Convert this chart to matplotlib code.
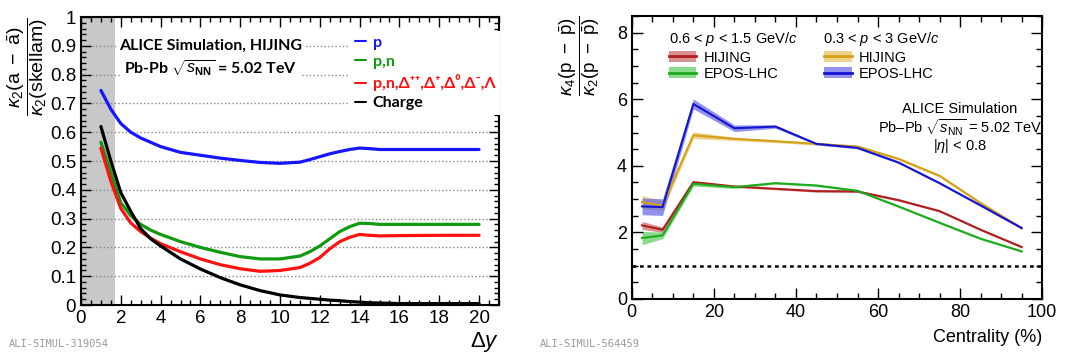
import numpy as np
import matplotlib
matplotlib.use('Agg')
import matplotlib.pyplot as plt
from matplotlib.patches import Patch
from matplotlib.lines import Line2D
from matplotlib.ticker import MultipleLocator

plt.rcParams['font.family'] = ['Liberation Sans', 'DejaVu Sans']
plt.rcParams['mathtext.fontset'] = 'custom'
plt.rcParams['mathtext.rm'] = 'Liberation Sans'
plt.rcParams['mathtext.it'] = 'Liberation Sans:italic'
plt.rcParams['mathtext.bf'] = 'Liberation Sans:bold'

# ---- left panel data: kappa2 ratio vs delta y (HIJING)
dy = [1, 1.5, 2, 2.5, 3, 3.5, 4, 5, 6, 7, 8, 9, 10, 11, 11.5, 12, 12.5, 13, 13.5, 14, 14.5, 15, 16, 18, 20]
k2_p = [0.745, 0.68, 0.63, 0.60, 0.58, 0.565, 0.55, 0.53, 0.52, 0.51, 0.502, 0.495, 0.492, 0.496, 0.505,
        0.515, 0.525, 0.533, 0.54, 0.545, 0.543, 0.54, 0.54, 0.54, 0.54]
k2_pn = [0.565, 0.46, 0.355, 0.31, 0.28, 0.26, 0.245, 0.22, 0.20, 0.183, 0.168, 0.16, 0.16, 0.17, 0.185,
         0.205, 0.23, 0.255, 0.272, 0.284, 0.283, 0.28, 0.28, 0.28, 0.28]
k2_bar = [0.545, 0.43, 0.335, 0.285, 0.255, 0.232, 0.213, 0.185, 0.16, 0.14, 0.126, 0.117, 0.12, 0.13, 0.145,
          0.165, 0.195, 0.22, 0.235, 0.245, 0.242, 0.24, 0.241, 0.242, 0.242]
k2_ch = [0.62, 0.50, 0.39, 0.325, 0.265, 0.23, 0.205, 0.16, 0.125, 0.095, 0.07, 0.05, 0.035, 0.026, 0.023,
         0.02, 0.017, 0.015, 0.012, 0.01, 0.008, 0.007, 0.005, 0.005, 0.005]
labels_left = ['p', 'p,n', 'p,n,Δ⁺⁺,Δ⁺,Δ⁰,Δ⁻,Λ', 'Charge']
colors_left = ['#1515ff', '#119911', '#ff1111', '#000000']

# ---- right panel data: kappa4/kappa2 vs centrality
cent = [2.5, 7.5, 15, 25, 35, 45, 55, 65, 75, 85, 95]
hij_lo = [2.21, 2.08, 3.51, 3.38, 3.31, 3.24, 3.23, 2.97, 2.64, 2.08, 1.56]
hij_lo_err = [0.12, 0.08, 0.04, 0.03, 0.03, 0.03, 0.03, 0.03, 0.03, 0.03, 0.03]
epos_lo = [1.83, 1.91, 3.46, 3.36, 3.48, 3.41, 3.25, 2.78, 2.29, 1.81, 1.43]
epos_lo_err = [0.2, 0.1, 0.07, 0.04, 0.03, 0.03, 0.03, 0.03, 0.03, 0.03, 0.03]
hij_hi = [2.91, 2.80, 4.92, 4.81, 4.74, 4.66, 4.58, 4.21, 3.70, 2.88, 2.13]
hij_hi_err = [0.2, 0.15, 0.1, 0.05, 0.04, 0.04, 0.04, 0.04, 0.04, 0.04, 0.04]
epos_hi = [2.78, 2.76, 5.86, 5.13, 5.18, 4.66, 4.54, 4.10, 3.48, 2.81, 2.13]
epos_hi_err = [0.25, 0.25, 0.15, 0.1, 0.05, 0.03, 0.03, 0.03, 0.03, 0.03, 0.03]

fig = plt.figure(figsize=(10.8, 3.58), dpi=100)

# ================= left panel
ax1 = fig.add_axes([0.075, 0.148, 0.387, 0.8045])
ax1.axvspan(0, 1.7, color='#c8c8c8', zorder=0, lw=0)
ax1.yaxis.grid(True, linestyle=':', color='#888888', lw=1, zorder=1)
for y, c, l in zip([k2_p, k2_pn, k2_bar, k2_ch], colors_left, labels_left):
    ax1.plot(dy, y, color=c, lw=2.3, label=l, zorder=3, solid_capstyle='round')
ax1.set_xlim(0, 21)
ax1.set_ylim(0, 1)
ax1.xaxis.set_major_locator(MultipleLocator(2))
ax1.xaxis.set_minor_locator(MultipleLocator(0.5))
ax1.yaxis.set_minor_locator(MultipleLocator(0.02))
ax1.set_yticks(np.arange(0, 1.01, 0.1))
ax1.set_yticklabels(['0', '0.1', '0.2', '0.3', '0.4', '0.5', '0.6', '0.7', '0.8', '0.9', '1'])
ax1.tick_params(which='both', direction='in', top=True, right=True, labelsize=13.5, width=1)
ax1.tick_params(which='major', length=7)
ax1.tick_params(which='minor', length=3.5)
for s in ax1.spines.values():
    s.set_linewidth(1.5)
ax1.set_ylabel(r'$\dfrac{\kappa_2(\mathrm{a\ -\ \bar{a}})}{\kappa_2(\mathrm{skellam})}$', fontsize=14,
               loc='top', labelpad=0)
ax1.set_xlabel(r'$\Delta y$', fontsize=16, loc='right', labelpad=2)

bb = dict(facecolor='white', edgecolor='none', pad=1.5)
ax1.text(0.311, 0.90, 'ALICE Simulation, HIJING', transform=ax1.transAxes, ha='center', va='center',
         fontsize=11.5, fontweight='bold', family=['Lato', 'DejaVu Sans'], bbox=bb, zorder=5)
ax1.text(0.311, 0.823, r'Pb-Pb $\sqrt{s_{\mathbf{NN}}}$ = 5.02 TeV', transform=ax1.transAxes, ha='center',
         va='center', fontsize=11.5, fontweight='bold', family=['Lato', 'DejaVu Sans'], bbox=bb, zorder=5)
leg1 = ax1.legend(loc='upper left', bbox_to_anchor=(0.625, 0.98), frameon=True, framealpha=1,
                  edgecolor='none', handlelength=0.7, handletextpad=0.4, labelspacing=0.32,
                  borderpad=0.3, fancybox=False,
                  prop={'family': ['Lato', 'DejaVu Sans'], 'weight': 'bold', 'size': 11.5})
leg1.set_zorder(5)
for t, c in zip(leg1.get_texts(), colors_left):
    t.set_color(c)
for h in leg1.get_lines():
    h.set_linewidth(1.5)

# ================= right panel
ax2 = fig.add_axes([0.585, 0.165, 0.38, 0.79])
series = [(hij_lo, hij_lo_err, '#b01e1e', '#c86464'),
          (epos_lo, epos_lo_err, '#1eaa1e', '#5ccc5c'),
          (hij_hi, hij_hi_err, '#d4a017', '#e6c15a'),
          (epos_hi, epos_hi_err, '#1414d2', '#6464e6')]
handles = []
for y, e, c, fc in series:
    y = np.array(y)
    e = np.array(e)
    ax2.fill_between(cent, y - e, y + e, color=fc, alpha=0.7, lw=0)
    ax2.plot(cent, y, color=c, lw=1.5)
    handles.append((Patch(facecolor=fc, alpha=0.7, edgecolor='none'), Line2D([], [], color=c, lw=2)))
ax2.axhline(1, color='black', lw=1.8, ls=(0, (1.5, 1.5)))
ax2.set_xlim(0, 100)
ax2.set_ylim(0, 8.5)
ax2.xaxis.set_major_locator(MultipleLocator(20))
ax2.xaxis.set_minor_locator(MultipleLocator(5))
ax2.yaxis.set_major_locator(MultipleLocator(2))
ax2.yaxis.set_minor_locator(MultipleLocator(0.5))
ax2.tick_params(which='both', direction='in', top=True, right=True, labelsize=13, width=1)
ax2.tick_params(which='major', length=8)
ax2.tick_params(which='minor', length=4)
for s in ax2.spines.values():
    s.set_linewidth(1.5)
ax2.set_ylabel(r'$\dfrac{\kappa_4(\mathrm{p\ -\ \bar{p}})}{\kappa_2(\mathrm{p\ -\ \bar{p}})}$', fontsize=13.5,
               loc='top', labelpad=11)
ax2.set_xlabel('Centrality (%)', fontsize=13, loc='right', labelpad=6)

ax2.text(0.09, 0.919, r'0.6 < $p$ < 1.5 GeV/$c$', transform=ax2.transAxes, fontsize=10.5, va='center')
ax2.text(0.466, 0.919, r'0.3 < $p$ < 3 GeV/$c$', transform=ax2.transAxes, fontsize=10.5, va='center')
lp = dict(frameon=False, handlelength=1.9, handleheight=0.75, handletextpad=0.5, labelspacing=0.15,
          borderpad=0, borderaxespad=0, fontsize=10.5)
legA = ax2.legend(handles[:2], ['HIJING', 'EPOS-LHC'], loc='upper left', bbox_to_anchor=(0.09, 0.878), **lp)
ax2.add_artist(legA)
ax2.legend(handles[2:], ['HIJING', 'EPOS-LHC'], loc='upper left', bbox_to_anchor=(0.468, 0.878), **lp)

ax2.text(0.80, 0.67, 'ALICE Simulation', transform=ax2.transAxes, ha='center', va='center', fontsize=10.5)
ax2.text(0.80, 0.605, r'Pb–Pb $\sqrt{s_{\mathrm{NN}}}$ = 5.02 TeV', transform=ax2.transAxes, ha='center',
         va='center', fontsize=10.5)
ax2.text(0.80, 0.54, r'$|\eta|$ < 0.8', transform=ax2.transAxes, ha='center', va='center', fontsize=10.5)

fig.text(0.008, 0.03, 'ALI-SIMUL-319054', fontsize=7.5, color='#999999', family='DejaVu Sans Mono')
fig.text(0.5, 0.03, 'ALI-SIMUL-564459', fontsize=7.5, color='#999999', family='DejaVu Sans Mono')

fig.savefig('out.png', dpi=100)
